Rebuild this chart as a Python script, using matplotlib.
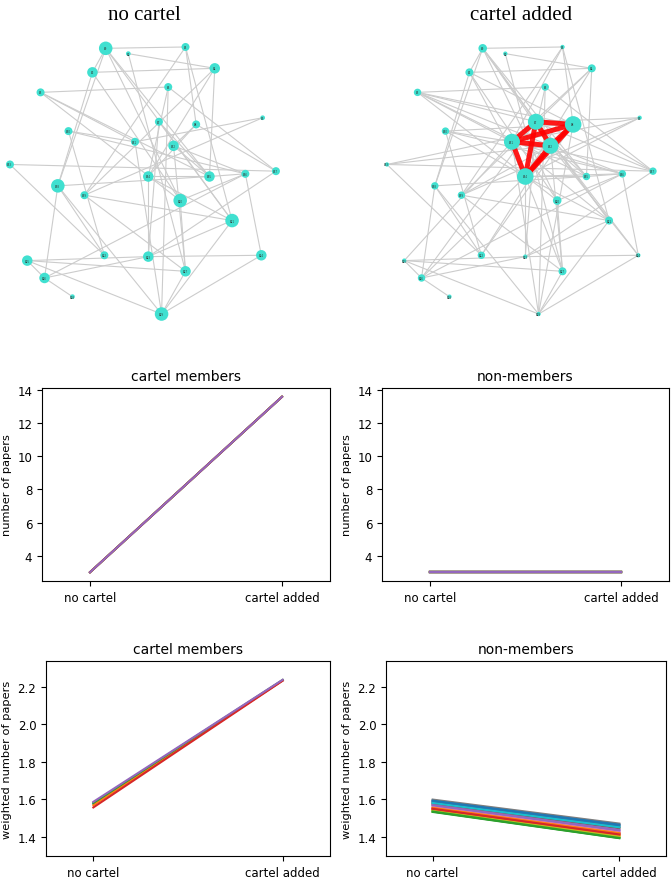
import matplotlib
matplotlib.use('Agg')
import numpy as np
import matplotlib.pyplot as plt

# ---- network layout (spring-layout style coordinates) ----
node_x = [-0.28, 0.32, -0.11, -0.38, 0.54, -0.77, 0.19, 0.12, 0.40, 0.90,
          -0.56, -0.06, 0.23, -1.00, 0.04, 0.50, 0.77, 1.00, -0.64, -0.44,
          0.28, 0.67, -0.29, 0.04, 0.89, -0.87, -0.74, 0.32, -0.53, 0.14]
node_y = [0.99, 1.00, 0.95, 0.81, 0.84, 0.66, 0.70, 0.44, 0.42, 0.47,
          0.37, 0.29, 0.26, 0.12, 0.03, 0.03, 0.05, 0.07, -0.04, -0.11,
          -0.15, -0.30, -0.56, -0.57, -0.56, -0.60, -0.73, -0.68, -0.87, -1.00]

# node weight (drawn as marker size)
weight_before = [1.0, 0.35, 0.12, 0.6, 0.6, 0.35, 0.35, 0.35, 0.35, 0.12,
                 0.35, 0.35, 0.6, 0.35, 0.6, 0.6, 0.35, 0.35, 1.0, 0.35,
                 1.0, 1.0, 0.35, 0.6, 0.6, 0.6, 0.6, 0.6, 0.12, 1.0]
weight_after = [0.4, 0.1, 0.1, 0.35, 0.35, 0.3, 0.3, 1.4, 1.5, 0.1,
                0.3, 1.4, 1.4, 0.1, 1.5, 0.3, 0.3, 0.3, 0.3, 0.3,
                0.4, 0.35, 0.3, 0.1, 0.1, 0.1, 0.3, 0.35, 0.1, 0.1]

cartel = [7, 8, 11, 12, 14]

edges_base = [(0, 1), (0, 18), (0, 20), (0, 21), (0, 15), (0, 3),
              (2, 4), (2, 27), (3, 4), (3, 18), (3, 20),
              (5, 6), (5, 11), (5, 15), (5, 20),
              (6, 14), (6, 29), (6, 17),
              (1, 19), (1, 8), (1, 21),
              (4, 14), (4, 19), (4, 15),
              (7, 21), (7, 15), (7, 23),
              (8, 12), (8, 17), (8, 14),
              (9, 19), (9, 11),
              (10, 16), (10, 22), (10, 11), (11, 29),
              (12, 15), (12, 16), (12, 27),
              (13, 17), (13, 22),
              (14, 15), (14, 21), (14, 23),
              (15, 16), (16, 24), (16, 26),
              (18, 22), (18, 26), (18, 29), (18, 15),
              (19, 27), (19, 21), (20, 16), (20, 27),
              (21, 29), (21, 23), (23, 24), (23, 17), (23, 25), (23, 26),
              (25, 27), (25, 26), (25, 29), (26, 28), (27, 29), (24, 29)]

edges_extra = [(7, 0), (7, 5), (7, 9), (7, 24), (7, 26), (7, 17),
               (8, 3), (8, 10), (8, 13), (8, 22), (8, 29), (8, 5),
               (11, 1), (11, 4), (11, 17), (11, 21), (11, 25), (11, 16),
               (12, 0), (12, 5), (12, 13), (12, 19), (12, 24), (12, 22),
               (14, 3), (14, 9), (14, 10), (14, 16), (14, 26), (14, 27)]

# ---- paper counts ----
conditions = ['no cartel', 'cartel added']
members_papers = [[3.0, 13.6]] * 5
nonmembers_papers = [[3.0, 3.0]] * 25

members_weighted_start = [1.575, 1.568, 1.580, 1.556, 1.586]
members_weighted_end = [2.234, 2.233, 2.236, 2.232, 2.237]
nonmembers_weighted_start = [1.590, 1.548, 1.535, 1.552, 1.566, 1.575, 1.560, 1.598, 1.542, 1.582,
                             1.586, 1.545, 1.532, 1.550, 1.570, 1.578, 1.556, 1.594, 1.538, 1.580,
                             1.592, 1.554, 1.534, 1.549, 1.568]
nonmembers_weighted_end = [1.462, 1.410, 1.395, 1.418, 1.432, 1.445, 1.425, 1.470, 1.403, 1.452,
                           1.458, 1.406, 1.392, 1.414, 1.436, 1.448, 1.421, 1.466, 1.400, 1.450,
                           1.464, 1.419, 1.393, 1.412, 1.434]

W, H = 672, 878
fig = plt.figure(figsize=(W / 100, H / 100), dpi=100)


def draw_net(ax, edges, weights, red_clique):
    for a, b in edges:
        ax.plot([node_x[a], node_x[b]], [node_y[a], node_y[b]], color='#cccccc', lw=0.8, zorder=1)
    if red_clique:
        for i in range(len(cartel)):
            for j in range(i + 1, len(cartel)):
                a, b = cartel[i], cartel[j]
                ax.plot([node_x[a], node_x[b]], [node_y[a], node_y[b]], color='red', lw=3.6,
                        alpha=0.9, solid_capstyle='butt', zorder=2)
    ax.scatter(node_x, node_y, s=np.array(weights) * 95, color='#40e0d0', edgecolors='none', zorder=3)
    for i in range(len(node_x)):
        ax.text(node_x[i], node_y[i], 'A' + str(i), fontsize=1.8, ha='center', va='center',
                color='#333333', zorder=4)
    ax.set_xlim(-1.05, 1.05)
    ax.set_ylim(-1.05, 1.05)
    ax.axis('off')


ax1 = fig.add_axes([3.3 / W, 1 - 321.7 / H, 279.3 / W, 280.4 / H])
draw_net(ax1, edges_base, weight_before, False)
ax2 = fig.add_axes([380.3 / W, 1 - 321.7 / H, 279.3 / W, 280.4 / H])
draw_net(ax2, edges_base + edges_extra, weight_after, True)

fig.text(144 / W, 1 - 20 / H, 'no cartel', ha='center', va='baseline', family='Liberation Serif', fontsize=15)
fig.text(521 / W, 1 - 20 / H, 'cartel added', ha='center', va='baseline', family='Liberation Serif', fontsize=15)

xs = [0, 1]


def style(ax, title, ylabel):
    ax.set_title(title, fontsize=10)
    ax.set_ylabel(ylabel, fontsize=8.2)
    ax.set_xticks(xs)
    ax.set_xticklabels(conditions, fontsize=8.5)
    ax.tick_params(axis='y', labelsize=8.5)
    ax.set_xlim(-0.25, 1.25)


# middle row
ax3 = fig.add_axes([42 / W, 1 - 582 / H, 288 / W, 193 / H])
for vals in members_papers:
    ax3.plot(xs, vals)
ax4 = fig.add_axes([382 / W, 1 - 582 / H, 287 / W, 193 / H], sharey=ax3)
for vals in nonmembers_papers:
    ax4.plot(xs, vals)
ax3.set_ylim(2.47, 14.13)
ax3.set_yticks([4, 6, 8, 10, 12, 14])
style(ax3, 'cartel members', 'number of papers')
style(ax4, 'non-members', 'number of papers')

# bottom row
ax5 = fig.add_axes([46 / W, 1 - 857 / H, 284 / W, 195 / H])
for s, e in zip(members_weighted_start, members_weighted_end):
    ax5.plot(xs, [s, e])
ax6 = fig.add_axes([386 / W, 1 - 857 / H, 280 / W, 195 / H], sharey=ax5)
for s, e in zip(nonmembers_weighted_start, nonmembers_weighted_end):
    ax6.plot(xs, [s, e])
ax5.set_ylim(1.297, 2.337)
ax5.set_yticks([1.4, 1.6, 1.8, 2.0, 2.2])
style(ax5, 'cartel members', 'weighted number of papers')
style(ax6, 'non-members', 'weighted number of papers')

fig.savefig('out.png', dpi=100)
plt.close()
